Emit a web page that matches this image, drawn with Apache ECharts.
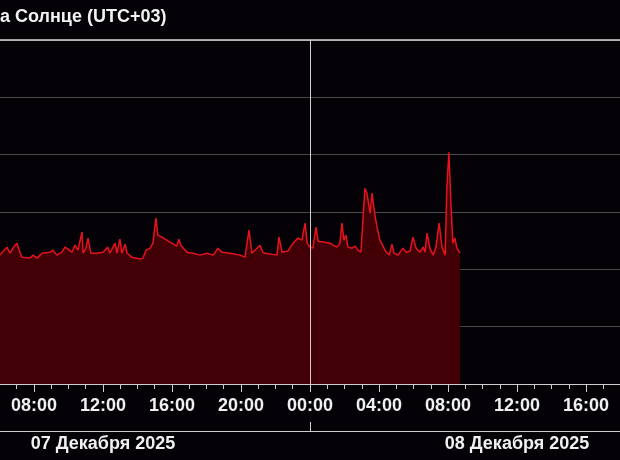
<!DOCTYPE html>
<html>
<head>
<meta charset="utf-8">
<script src="https://cdn.jsdelivr.net/npm/echarts@6/dist/echarts.min.js"></script>
<style>
  html, body { margin: 0; padding: 0; background: #040206; }
  #chart { width: 620px; height: 460px; }
</style>
</head>
<body>
<div id="chart"></div>
<script>
// ---- Data (X-ray flux, W/m^2) ----
const titleText = 'а Солнце (UTC+03)';

const timesDec7 = ['06:02','06:26','06:37','06:54','07:01','07:11','07:18','07:46','07:57','08:11','08:28','08:56','09:06','09:20','09:37','09:48','09:58','10:12','10:23','10:33','10:47','10:51','11:01','11:08','11:18','11:39','12:00','12:17','12:24','12:42','12:49','12:59','13:06','13:17','13:24','13:41','14:09','14:19','14:30','14:44','14:54','15:04','15:11','15:25','15:53','16:17','16:24','16:31','16:52','17:13','17:37','18:02','18:23','18:40','18:54','19:22','19:57','20:14','20:28','20:38','21:06','21:16','21:23','22:05','22:12','22:23','22:43','23:01','23:18','23:32','23:43','23:50'];
const fluxDec7 = [1.77e-6,2.44e-6,1.91e-6,2.64e-6,2.86e-6,1.99e-6,1.63e-6,1.57e-6,1.77e-6,1.57e-6,1.91e-6,1.99e-6,2.16e-6,1.77e-6,1.99e-6,2.44e-6,2.25e-6,1.99e-6,2.64e-6,2.16e-6,4.45e-6,1.91e-6,2.34e-6,3.50e-6,1.91e-6,1.91e-6,1.99e-6,2.44e-6,1.91e-6,2.86e-6,1.91e-6,3.36e-6,1.91e-6,2.75e-6,1.91e-6,1.63e-6,1.51e-6,1.57e-6,2.16e-6,2.34e-6,2.86e-6,7.80e-6,3.94e-6,3.64e-6,2.98e-6,2.54e-6,3.36e-6,2.64e-6,1.99e-6,1.91e-6,1.77e-6,1.91e-6,1.77e-6,2.34e-6,1.99e-6,1.91e-6,1.77e-6,1.63e-6,4.82e-6,1.91e-6,2.64e-6,1.99e-6,1.91e-6,1.77e-6,3.64e-6,1.99e-6,2.08e-6,2.86e-6,3.50e-6,3.23e-6,6.38e-6,2.86e-6];

const timesDec8 = ['00:00','00:10','00:21','00:28','00:52','01:10','01:20','01:34','01:44','01:51','01:58','02:05','02:12','02:26','02:37','02:47','02:57','03:04','03:11','03:18','03:29','03:36','03:43','03:53','04:03','04:21','04:35','04:45','04:52','05:06','05:23','05:34','05:48','05:58','06:09','06:23','06:33','06:40','06:47','06:57','07:08','07:18','07:29','07:39','07:50','07:56','08:03','08:10','08:17','08:24','08:31','08:42'];
const fluxDec8 = [2.44e-6,2.34e-6,5.43e-6,3.10e-6,2.98e-6,2.86e-6,2.64e-6,2.44e-6,2.86e-6,6.38e-6,3.23e-6,3.94e-6,2.44e-6,2.34e-6,2.54e-6,2.16e-6,1.99e-6,7.20e-6,2.60e-5,2.13e-5,9.53e-6,2.13e-5,1.08e-5,5.43e-6,3.23e-6,2.16e-6,1.77e-6,2.75e-6,1.91e-6,1.77e-6,2.34e-6,1.99e-6,2.08e-6,3.64e-6,2.34e-6,1.99e-6,2.44e-6,1.99e-6,4.27e-6,2.34e-6,1.77e-6,2.44e-6,6.38e-6,2.44e-6,1.77e-6,2.70e-5,1.10e-4,1.42e-5,2.86e-6,3.50e-6,2.34e-6,1.91e-6];

// Tick labels (every 4 hours) and date labels (placed at noon of each day)
const hourLabelTimes = ['2025-12-07 08:00','2025-12-07 12:00','2025-12-07 16:00','2025-12-07 20:00','2025-12-08 00:00','2025-12-08 04:00','2025-12-08 08:00','2025-12-08 12:00','2025-12-08 16:00'];
const hourLabels = ['08:00','12:00','16:00','20:00','00:00','04:00','08:00','12:00','16:00'];
const dateLabelTimes = ['2025-12-07 12:00','2025-12-08 12:00'];
const dateLabels = ['07 Декабря 2025','08 Декабря 2025'];
const dayBoundary = '2025-12-08 00:00';
const axisMin = '2025-12-07 06:02';
const axisMax = '2025-12-08 17:58';

// ---- Build ----
function ts(s) {
  const [d, t] = s.split(' ');
  const [Y, M, D] = d.split('-').map(Number);
  const [h, m] = t.split(':').map(Number);
  return Date.UTC(Y, M - 1, D, h, m);
}
const seriesData = [];
timesDec7.forEach((t, i) => seriesData.push([ts('2025-12-07 ' + t), fluxDec7[i]]));
timesDec8.forEach((t, i) => seriesData.push([ts('2025-12-08 ' + t), fluxDec8[i]]));

const hourTicks = [];
for (let h = 7; h <= 41; h++) hourTicks.push(Date.UTC(2025, 11, 7, h, 0));
const majorTicks = hourLabelTimes.map(ts);
const dateTicks = dateLabelTimes.map(ts);
const minT = ts(axisMin), maxT = ts(axisMax);

const FONT = '"Liberation Sans", Arial, sans-serif';
const axisColor = '#cfcfcf';

function baseX(extra) {
  return Object.assign({
    type: 'value', min: minT, max: maxT, position: 'bottom',
    axisLine: { show: false }, axisTick: { show: false },
    axisLabel: { show: false }, splitLine: { show: false }
  }, extra);
}

const chart = echarts.init(document.getElementById('chart'), null, { renderer: 'canvas' });
chart.setOption({
  backgroundColor: '#040206',
  animation: false,
  title: {
    text: titleText,
    left: 0, top: 8, padding: 0,
    textStyle: { color: '#f2f2f2', fontSize: 18, fontWeight: 'bold', fontFamily: FONT }
  },
  grid: { left: 0, right: 0, top: 40, bottom: 76, containLabel: false },
  xAxis: [
    baseX({ // main axis: 4-hour labels and long ticks
      axisLine: { show: true, lineStyle: { color: axisColor, width: 1 } },
      axisTick: { show: true, customValues: majorTicks, length: 8, lineStyle: { color: axisColor } },
      axisLabel: {
        show: true, customValues: majorTicks, margin: 13,
        color: '#f0f0f0', fontSize: 18, fontWeight: 'bold', fontFamily: FONT,
        formatter: v => { const i = majorTicks.indexOf(v); return i >= 0 ? hourLabels[i] : ''; }
      }
    }),
    baseX({ // hourly short ticks
      axisTick: { show: true, customValues: hourTicks, length: 5, lineStyle: { color: axisColor } }
    }),
    baseX({ // date row
      offset: 47,
      axisLine: { show: true, lineStyle: { color: axisColor, width: 1 } },
      axisTick: { show: true, inside: true, customValues: [ts(dayBoundary)], length: 9, lineStyle: { color: axisColor } },
      axisLabel: {
        show: true, customValues: dateTicks, margin: 4,
        color: '#f0f0f0', fontSize: 18, fontWeight: 'bold', fontFamily: FONT,
        formatter: v => { const i = dateTicks.indexOf(v); return i >= 0 ? dateLabels[i] : ''; }
      }
    }),
    baseX({ // top border
      position: 'top',
      axisLine: { show: true, lineStyle: { color: '#d8d8d8', width: 1.5 } }
    })
  ],
  yAxis: {
    type: 'log', logBase: 10, min: 1e-8, max: 1e-2,
    axisLine: { show: false }, axisTick: { show: false }, axisLabel: { show: false },
    splitLine: { show: true, lineStyle: { color: '#4a4a4a', width: 1 } }
  },
  series: [{
    type: 'line',
    xAxisIndex: 0,
    data: seriesData,
    showSymbol: false,
    lineStyle: { color: '#e8121e', width: 1.5 },
    areaStyle: { color: '#420006', opacity: 1, origin: 'start' },
    markLine: {
      silent: true, symbol: ['none', 'none'],
      label: { show: false },
      lineStyle: { color: '#cfcfcf', width: 1, type: 'solid' },
      data: [{ xAxis: ts(dayBoundary) }]
    }
  }]
});
</script>
</body>
</html>
